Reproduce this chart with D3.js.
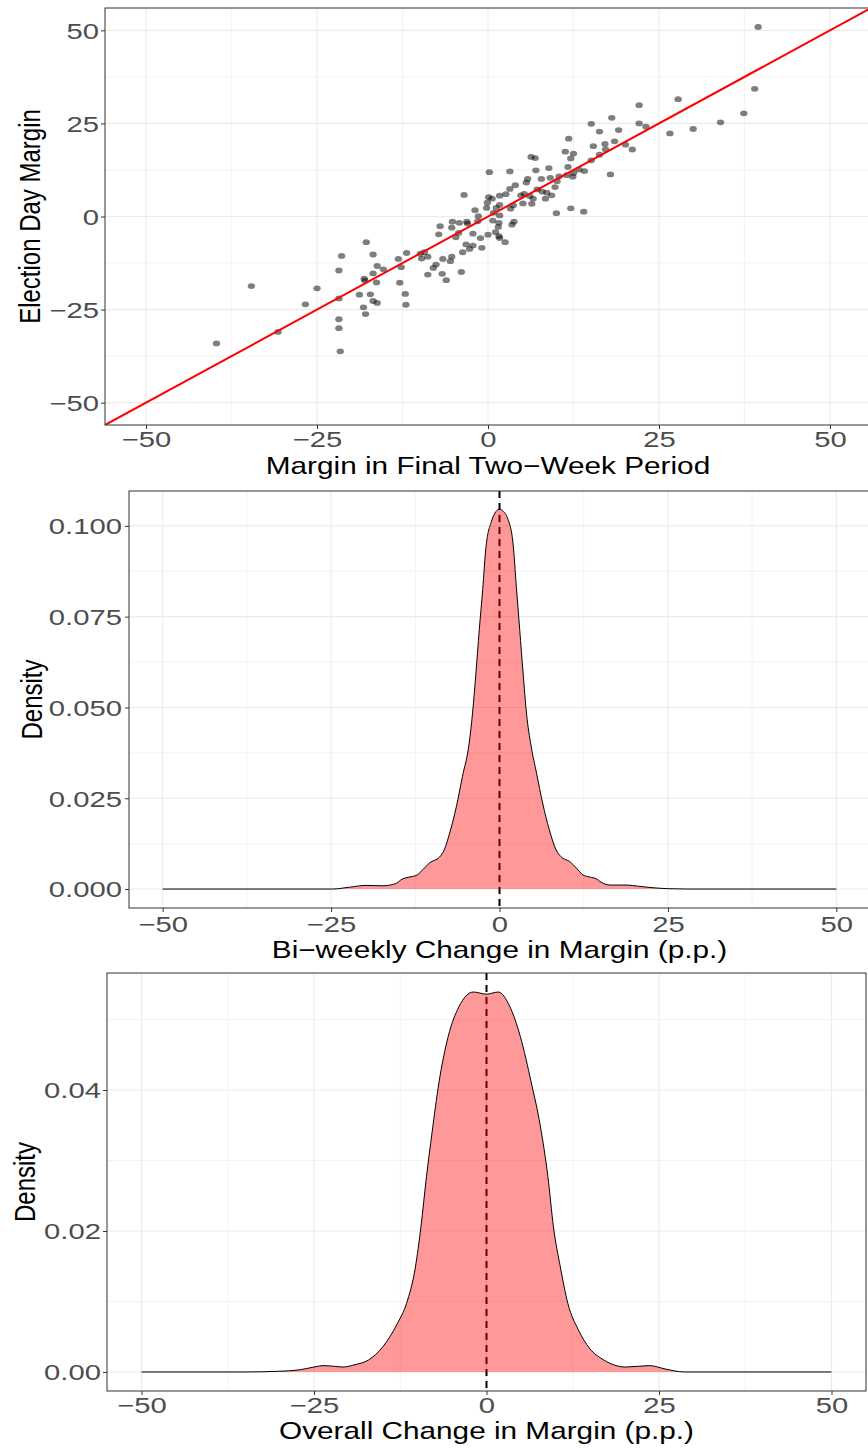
<!DOCTYPE html>
<html>
<head>
<meta charset="utf-8">
<script src="https://cdn.jsdelivr.net/npm/d3@7"></script>
<style>
  body { margin: 0; background: #fff; }
  svg { display: block; font-family: "Liberation Sans", Arial, sans-serif; }
</style>
</head>
<body>
<svg id="chart"></svg>
<script>
// --- scatter: poll margin in final two weeks vs. election day margin ---
const finalTwoWeek = [
  27.8, 22.1, 18.1, 15.1, 22.1, 19.1, 16.3, 23.1, 26.6, 11.8,
  17.1, 18.5, 15.4, 20.1, 21.1, 11.3, 12.5, 17.2, 12.1, 16.3,
  15.1, 6.3, 6.9, 7.0, 8.9, 11.7, 13.3, 14.1, 17.9, 0.2,
  3.2, 5.8, 5.6, 7.8, 9.1, 10.4, 11.5, 12.4, 12.5, 10.1,
  9.8, 4.0, 3.2, 7.2, 7.9, 8.6, 9.3, 8.4, 5.3, 4.8,
  6.1, 6.6, 5.1, 6.4, 3.7, 2.6, 1.7, 0.1, -0.1, -3.5,
  1.7, 1.2, 3.3, 0.8, 1.7, -1.9, -0.2, -1.4, 0.7, 1.6,
  3.8, 3.5, 10.0, 12.1, 14.0, -3.0, -2.2, -1.1, 0.0, 1.1,
  1.5, 1.6, 1.7, 2.5, -4.7, -4.3, -5.2, -4.2, -3.1, -7.2,
  -7.0, -5.3, -3.2, -2.2, -0.9, -2.7, -3.7, -11.9, -9.3, -9.9,
  -8.8, -13.1, -6.6, -5.3, -9.7,
  39.5, 39.0, 37.4, 34.0, 30.0,
  -17.8, -21.4, -16.8, -21.8, -16.2, -15.3, -16.8, -18.1, -18.0, -16.3,
  -12.9, -34.6, -25.0, -18.8, -17.2, -21.8, -26.7, -16.8, -16.2, -18.2,
  -17.9, -21.8, -21.8, -30.7, -39.7, -21.6,
  -12.7, -12.1, -12.0, -7.6, -8.0, -8.8, -5.5, -6.7, -6.1, -3.9,
  0.6, -1.5
];
const electionDay = [
  31.5, 29.9, 26.5, 24.9, 25.0, 23.2, 22.8, 24.1, 22.3, 20.9,
  19.5, 20.2, 18.9, 19.3, 18.0, 17.4, 16.9, 18.0, 15.6, 16.6,
  15.1, 16.0, 15.7, 12.4, 13.0, 13.3, 12.6, 12.2, 11.3, 11.9,
  12.1, 10.1, 9.1, 10.1, 10.4, 10.8, 11.1, 10.7, 11.7, 9.5,
  7.9, 8.4, 7.4, 7.3, 6.7, 6.4, 5.7, 4.8, 6.1, 5.7,
  5.5, 4.8, 3.5, 3.4, 3.0, 6.0, 5.6, 5.2, 3.7, 5.8,
  3.1, 2.3, 2.1, 1.0, 0.3, 1.7, 2.3, 0.1, -1.1, -1.7,
  -1.4, -2.2, 0.9, 2.2, 1.3, -1.9, -4.6, -5.8, -4.9, -4.2,
  -2.8, -5.3, -5.8, -6.9, -5.6, -4.4, -1.4, -1.7, -1.4, -4.8,
  -2.6, -3.0, -7.5, -7.8, -8.4, -8.7, -9.6, -9.8, -9.6, -10.0,
  -10.8, -11.4, -11.4, -10.8, -11.3,
  50.9, 34.3, 27.7, 25.3, 23.5,
  -6.9, -10.6, -10.2, -14.5, -13.3, -14.2, -15.3, -16.7, -17.2, -17.7,
  -17.8, -18.7, -19.3, -21.0, -20.9, -22.0, -23.6, -22.7, -23.2, -24.4,
  -26.2, -27.6, -30.0, -31.0, -34.1, -36.2,
  -13.6, -20.8, -23.7, -12.9, -13.8, -15.6, -12.0, -15.4, -17.1, -14.9,
  4.8, -1.3
];

// --- density of bi-weekly change ---
const biweeklyGrid = [
  -50, -27, -24.8, -22.3, -19.8, -17.3, -15.4, -14.4, -13.4, -12.4,
  -11.4, -10.4, -8.9, -8.2, -7.4, -6.4, -5.5, -4.5, -4.0, -3.5,
  -3.0, -2.5, -2.0, -1.2, -0.5, 0, 0.5, 1.2, 2.0, 2.5,
  3.0, 3.5, 4.0, 4.7, 5.5, 6.4, 7.4, 8.4, 9.4, 10.4,
  11.4, 12.4, 13.4, 14.4, 14.9, 16.5, 19.0, 20.5, 22.5, 25,
  28, 50
];
const biweeklyDensity = [
  0, 0, 0.0000, 0.0005, 0.0010, 0.0009, 0.0015, 0.0028, 0.0033, 0.0037,
  0.0053, 0.0072, 0.0088, 0.0108, 0.0154, 0.0227, 0.0310, 0.0402, 0.0485, 0.0595,
  0.0714, 0.0824, 0.0943, 0.1012, 0.1040, 0.1046, 0.1041, 0.1021, 0.0953, 0.0833,
  0.0714, 0.0595, 0.0485, 0.0393, 0.0319, 0.0237, 0.0163, 0.0108, 0.0085, 0.0076,
  0.0058, 0.0039, 0.0033, 0.0028, 0.0021, 0.0011, 0.0011, 0.0008, 0.0004, 0.0001,
  0, 0
];

// --- density of overall change ---
const overallGrid = [
  -50, -35, -30, -27.1, -25, -23.7, -22, -20.8, -19.2, -17.1,
  -15.0, -12.9, -11.6, -10.3, -9.5, -8.7, -7.9, -6.9, -5.55, -4.0,
  -1.9, 0, 1.7, 3.4, 4.9, 6.5, 7.8, 8.9, 9.7, 10.7,
  11.8, 13.3, 14.9, 17.0, 20.2, 23.6, 26.0, 28.6, 50
];
const overallDensity = [
  0, 0, 0.0001, 0.0003, 0.0007, 0.0009, 0.0008, 0.0007, 0.0010, 0.0017,
  0.0036, 0.0069, 0.0097, 0.0149, 0.0206, 0.0277, 0.0339, 0.0410, 0.0476, 0.0518,
  0.0539, 0.0536, 0.0539, 0.0518, 0.0476, 0.0410, 0.0349, 0.0277, 0.0206, 0.0149,
  0.0097, 0.0060, 0.0034, 0.0017, 0.0007, 0.0009, 0.0004, 0, 0
];

const marginTicks = [-50, -25, 0, 25, 50];
const biweeklyTicks = [0, 0.025, 0.05, 0.075, 0.1];
const overallTicks = [0, 0.02, 0.04];

const W = 868, H = 1448;
const TICK_STRETCH = 1.3;   // glyphs in the reference are widened horizontally
const TITLE_STRETCH = 1.24;

const svg = d3.select("#chart").attr("width", W).attr("height", H);

const midpoints = (ticks) => d3.pairs(ticks).map(([a, b]) => (a + b) / 2);

/**
 * Draws panel background, grid, border, axes and titles; returns the scales.
 */
function drawFrame(cfg) {
  const g = svg.append("g");
  const x = d3.scaleLinear().domain(cfg.xDomain).range([cfg.left, cfg.right]);
  const y = d3.scaleLinear().domain(cfg.yDomain).range([cfg.bottom, cfg.top]);

  const clipId = "clip-" + cfg.id;
  svg.append("clipPath").attr("id", clipId)
    .append("rect")
    .attr("x", cfg.left).attr("y", cfg.top)
    .attr("width", cfg.right - cfg.left).attr("height", cfg.bottom - cfg.top);

  const grid = g.append("g").attr("clip-path", `url(#${clipId})`);
  grid.selectAll(".vminor").data(midpoints(cfg.xTicks)).join("line")
    .attr("x1", (d) => x(d)).attr("x2", (d) => x(d))
    .attr("y1", cfg.top).attr("y2", cfg.bottom)
    .attr("stroke", "#f0f0f0").attr("stroke-width", 0.8);
  grid.selectAll(".hminor").data(midpoints(cfg.yTicks).concat(cfg.yExtraMinor || [])).join("line")
    .attr("y1", (d) => y(d)).attr("y2", (d) => y(d))
    .attr("x1", cfg.left).attr("x2", cfg.right)
    .attr("stroke", "#f0f0f0").attr("stroke-width", 0.8);
  grid.selectAll(".vmajor").data(cfg.xTicks).join("line")
    .attr("x1", (d) => x(d)).attr("x2", (d) => x(d))
    .attr("y1", cfg.top).attr("y2", cfg.bottom)
    .attr("stroke", "#ebebeb").attr("stroke-width", 1.1);
  grid.selectAll(".hmajor").data(cfg.yTicks).join("line")
    .attr("y1", (d) => y(d)).attr("y2", (d) => y(d))
    .attr("x1", cfg.left).attr("x2", cfg.right)
    .attr("stroke", "#ebebeb").attr("stroke-width", 1.1);

  const plot = g.append("g").attr("clip-path", `url(#${clipId})`);

  // axes
  const xAxis = g.append("g")
    .attr("transform", `translate(0,${cfg.bottom})`)
    .call(d3.axisBottom(x).tickValues(cfg.xTicks).tickSize(4).tickFormat(d3.format("d")));
  const yAxis = g.append("g")
    .attr("transform", `translate(${cfg.left},0)`)
    .call(d3.axisLeft(y).tickValues(cfg.yTicks).tickSize(4).tickFormat(d3.format(cfg.yFormat)));

  [xAxis, yAxis].forEach((ax) => {
    ax.select(".domain").remove();
    ax.selectAll(".tick line").attr("stroke", "#333333").attr("stroke-width", 1);
    ax.selectAll(".tick text")
      .attr("fill", "#4d4d4d")
      .style("font-size", "22.5px")
      .attr("transform", `scale(${TICK_STRETCH},1)`);
  });
  xAxis.selectAll(".tick text").attr("y", cfg.xLabelGap).attr("dy", "0.71em");
  yAxis.selectAll(".tick text").attr("x", -cfg.yLabelGap / TICK_STRETCH).attr("dy", "0.35em");

  // border
  g.append("rect")
    .attr("x", cfg.left).attr("y", cfg.top)
    .attr("width", cfg.right - cfg.left).attr("height", cfg.bottom - cfg.top)
    .attr("fill", "none").attr("stroke", "#333333").attr("stroke-width", 1);

  // titles
  g.append("text")
    .attr("transform", `translate(${(cfg.left + cfg.right) / 2},${cfg.xTitleY}) scale(${TITLE_STRETCH},1)`)
    .attr("text-anchor", "middle")
    .style("font-size", "24px")
    .attr("fill", "black")
    .text(cfg.xTitle);
  g.append("text")
    .attr("transform", `translate(${cfg.yTitleX},${(cfg.top + cfg.bottom) / 2}) scale(1.2,1) rotate(-90)`)
    .attr("text-anchor", "middle")
    .style("font-size", "24px")
    .attr("fill", "black")
    .text(cfg.yTitle);

  return { x, y, plot, g };
}

// ---------- panel 1: scatter ----------
const p1 = drawFrame({
  id: "scatter", left: 105, right: 871, top: 8, bottom: 425,
  xDomain: [-56, 56], yDomain: [-56, 56],
  xTicks: marginTicks, yTicks: marginTicks, yFormat: "d",
  xLabelGap: 6, yLabelGap: 6, xTitleY: 474, yTitleX: 40,
  xTitle: "Margin in Final Two\u2212Week Period", yTitle: "Election Day Margin",
});

p1.plot.selectAll(".pt")
  .data(d3.zip(finalTwoWeek, electionDay))
  .join("ellipse")
  .attr("cx", (d) => p1.x(d[0]))
  .attr("cy", (d) => p1.y(d[1]))
  .attr("rx", 3.7).attr("ry", 2.9)
  .attr("fill", "black").attr("fill-opacity", 0.5);

// 45-degree reference line y = x
const diag = p1.x.domain();
p1.plot.append("line")
  .attr("x1", p1.x(diag[0])).attr("y1", p1.y(diag[0]))
  .attr("x2", p1.x(diag[1])).attr("y2", p1.y(diag[1]))
  .attr("stroke", "red").attr("stroke-width", 2);

// ---------- density panels ----------
function drawDensity(panel, grid, dens) {
  const pts = d3.zip(grid, dens);
  // dashed zero line sits underneath the translucent fill
  panel.plot.append("line")
    .attr("x1", panel.x(0)).attr("x2", panel.x(0))
    .attr("y1", panel.y.range()[1]).attr("y2", panel.y.range()[0])
    .attr("stroke", "black").attr("stroke-width", 2)
    .attr("stroke-dasharray", "7,5");

  const area = d3.area()
    .x((d) => panel.x(d[0]))
    .y0(panel.y(0))
    .y1((d) => panel.y(d[1]))
    .curve(d3.curveMonotoneX);
  const line = d3.line()
    .x((d) => panel.x(d[0]))
    .y((d) => panel.y(d[1]))
    .curve(d3.curveMonotoneX);

  panel.plot.append("path").datum(pts)
    .attr("d", area).attr("fill", "red").attr("fill-opacity", 0.4);
  panel.plot.append("path").datum(pts)
    .attr("d", line).attr("fill", "none")
    .attr("stroke", "black").attr("stroke-width", 1);
}

const p2 = drawFrame({
  id: "biweekly", left: 129, right: 870, top: 491, bottom: 908,
  xDomain: [-55, 55], yDomain: [-0.00522, 0.1096],
  xTicks: marginTicks, yTicks: biweeklyTicks, yFormat: ".3f",
  xLabelGap: 8, yLabelGap: 7, xTitleY: 958, yTitleX: 42,
  xTitle: "Bi\u2212weekly Change in Margin (p.p.)", yTitle: "Density",
});
drawDensity(p2, biweeklyGrid, biweeklyDensity);

const p3 = drawFrame({
  id: "overall", left: 107, right: 866, top: 973, bottom: 1391,
  xDomain: [-55, 55], yDomain: [-0.0027, 0.0566],
  xTicks: marginTicks, yTicks: overallTicks, yExtraMinor: [0.05], yFormat: ".2f",
  xLabelGap: 6, yLabelGap: 6, xTitleY: 1439, yTitleX: 35,
  xTitle: "Overall Change in Margin (p.p.)", yTitle: "Density",
});
drawDensity(p3, overallGrid, overallDensity);
</script>
</body>
</html>
